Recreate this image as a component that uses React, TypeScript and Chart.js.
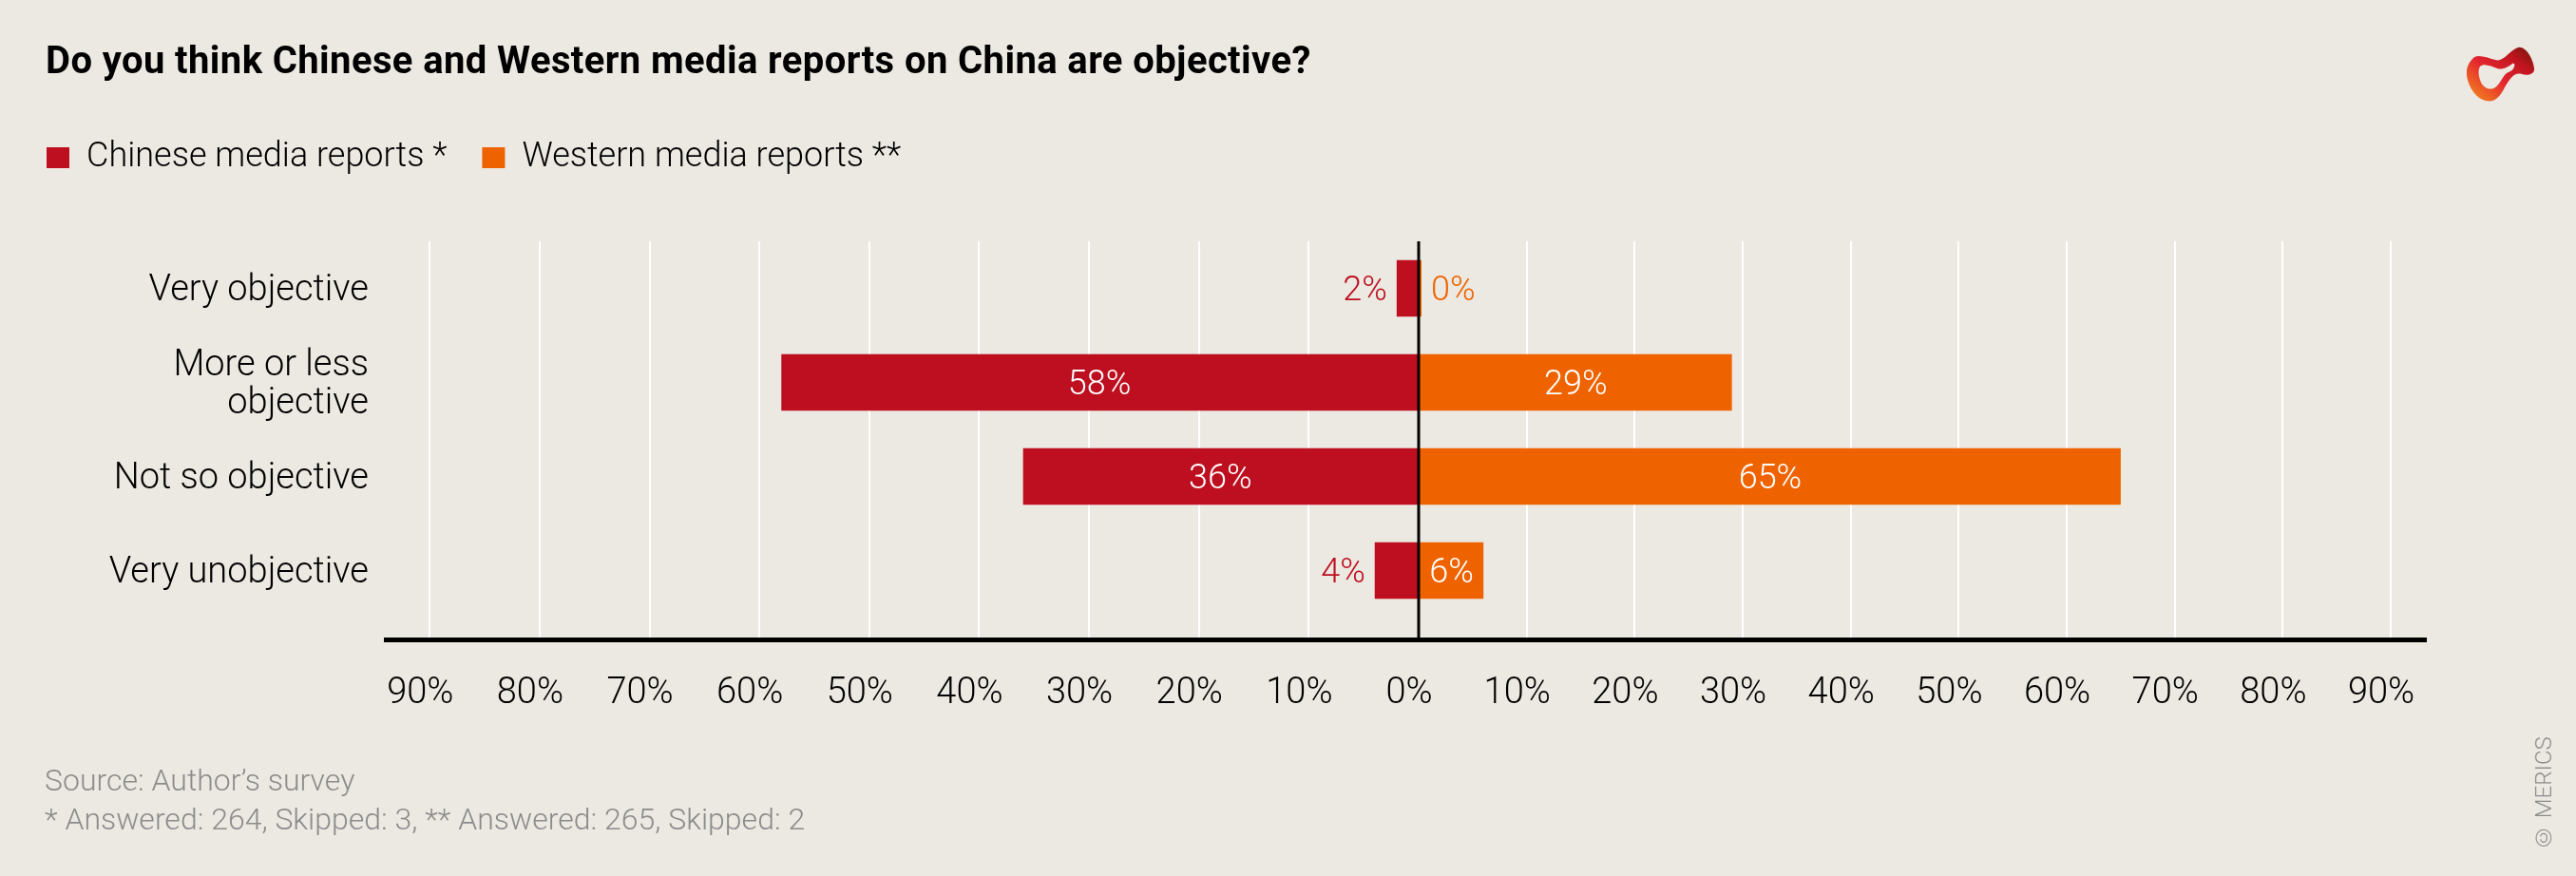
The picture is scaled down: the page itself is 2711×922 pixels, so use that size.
import React, { useEffect, useRef } from 'react';
import { Chart, registerables } from 'chart.js';

Chart.register(...registerables);

// survey answers, share of respondents in %
const categories = ['Very objective', 'More or less\nobjective', 'Not so objective', 'Very unobjective'];
const chineseShares = [2, 58, 36, 4];
const westernShares = [0, 29, 65, 6];
const seriesLabels = ['Chinese media reports *', 'Western media reports **'];
const sourceNote = 'Source: Author\u2019s survey';
const sampleNote = '* Answered: 264, Skipped: 3, ** Answered: 265, Skipped: 2';

const RED = '#bd0f1f';
const ORANGE = '#ee6300';
const BG = '#ece8e2';
const FONT = 'Roboto';

// black line at 0%, drawn over the bars
const zeroLine = {
  id: 'zeroLine',
  afterDatasetsDraw(chart: any) {
    const { ctx, chartArea } = chart;
    const x = chart.scales.x1.getPixelForValue(0);
    ctx.save();
    ctx.strokeStyle = '#000';
    ctx.lineWidth = 3;
    ctx.beginPath();
    ctx.moveTo(x, chartArea.top);
    ctx.lineTo(x, chartArea.bottom);
    ctx.stroke();
    ctx.restore();
  },
};

// percentage labels: inside the bar when it fits, else next to it
const barLabels = {
  id: 'barLabels',
  afterDatasetsDraw(chart: any) {
    const { ctx } = chart;
    ctx.save();
    ctx.font = `300 36px ${FONT}`;
    ctx.textBaseline = 'middle';
    chart.data.datasets.forEach((ds: any, di: number) => {
      const meta = chart.getDatasetMeta(di);
      meta.data.forEach((bar: any, i: number) => {
        const text = `${Math.abs(ds.data[i].x)}%`;
        const w = ctx.measureText(text).width;
        const { x, y, base } = bar.getProps(['x', 'y', 'base'], true);
        const ty = y + 3;
        if (Math.abs(x - base) > w + 16) {
          ctx.fillStyle = '#fff';
          ctx.textAlign = 'center';
          ctx.fillText(text, (x + base) / 2, ty);
        } else if (di === 0) {
          ctx.fillStyle = ds.backgroundColor;
          ctx.textAlign = 'right';
          ctx.fillText(text, Math.min(x, base) - 10, ty);
        } else {
          ctx.fillStyle = ds.backgroundColor;
          ctx.textAlign = 'left';
          ctx.fillText(text, Math.max(x, base) + 10, ty);
        }
      });
    });
    ctx.restore();
  },
};

const tickFont = { family: FONT, size: 38, weight: 300 as any };

const xAxis = (min: number, max: number, weight: number, hideZero: boolean) => ({
  type: 'linear' as const,
  position: 'bottom' as const,
  stack: 'x',
  stackWeight: weight,
  min,
  max,
  afterFit: (s: any) => {
    s.height = 249;
  },
  ticks: {
    stepSize: 10,
    includeBounds: false,
    autoSkip: false,
    maxRotation: 0,
    labelOffset: -10,
    padding: 35,
    color: '#000',
    font: tickFont,
    callback: (v: any) => (hideZero && v === 0 ? '' : `${Math.abs(v)}%`),
  },
  grid: { color: '#fff', lineWidth: 2, drawTicks: false },
  border: { color: '#000', width: 5 },
});

const MediaChart: React.FC = () => {
  const canvasRef = useRef<HTMLCanvasElement>(null);

  useEffect(() => {
    if (!canvasRef.current) return;
    const chart = new Chart(canvasRef.current, {
      type: 'bar',
      data: {
        datasets: [
          {
            label: seriesLabels[0],
            data: chineseShares.map((v, i) => ({ x: -v, y: i })),
            xAxisID: 'x1',
            yAxisID: 'y',
            backgroundColor: RED,
          },
          {
            label: seriesLabels[1],
            data: westernShares.map((v, i) => ({ x: v, y: i })),
            xAxisID: 'x2',
            yAxisID: 'y',
            backgroundColor: ORANGE,
            minBarLength: 3,
          },
        ] as any,
      },
      options: {
        indexAxis: 'y',
        responsive: false,
        animation: false,
        grouped: false,
        barPercentage: 0.6,
        categoryPercentage: 1,
        layout: { padding: { left: 12, right: 158, top: 111, bottom: 0 } },
        scales: {
          x1: xAxis(-94, 0, 1087, false),
          x2: xAxis(0, 93.25, 1060, true),
          y: {
            type: 'linear',
            position: 'left',
            offset: false,
            reverse: true,
            min: -0.5,
            max: 3.732,
            afterBuildTicks: (s: any) => {
              s.ticks = categories.map((_, i) => ({ value: i }));
            },
            afterFit: (s: any) => {
              s.width = 394;
            },
            ticks: {
              autoSkip: false,
              padding: 18,
              labelOffset: 3,
              color: '#000',
              font: { family: FONT, size: 38, weight: 300 as any, lineHeight: 1.05 },
              callback: (v: any) => categories[v].split('\n'),
            },
            grid: { display: false, drawTicks: false, offset: false },
            border: { display: false },
          },
        } as any,
        plugins: {
          title: { display: false },
          // empty subtitle keeps the gap between legend and plot
          subtitle: {
            display: true,
            text: '',
            weight: 500,
            font: { size: 1, lineHeight: 1 },
            padding: { top: 59, bottom: 0 },
          },
          legend: {
            position: 'top',
            align: 'start',
            labels: {
              boxWidth: 24,
              boxHeight: 22,
              padding: 37,
              color: '#000',
              font: { family: FONT, size: 36, weight: 300 as any },
            },
          },
          tooltip: { enabled: false },
        },
      } as any,
      plugins: [zeroLine, barLabels],
    });
    return () => chart.destroy();
  }, []);

  return <canvas ref={canvasRef} width={2711} height={922} style={{ display: 'block' }} />;
};

const Logo: React.FC = () => (
  <svg width={72} height={60} viewBox="0 0 72 60" style={{ position: 'absolute', left: 2596, top: 48 }}>
    <defs>
      <linearGradient id="merics" x1="0" y1="1" x2="1" y2="0">
        <stop offset="0" stopColor="#f7941d" />
        <stop offset="0.45" stopColor="#e3262f" />
        <stop offset="0.75" stopColor="#c0141f" />
        <stop offset="1" stopColor="#6b1a0c" />
      </linearGradient>
    </defs>
    <path
      fillRule="evenodd"
      fill="url(#merics)"
      d="M6 14 C10 8 20 12 30 15 C38 18 44 6 54 2 C62 0 70 14 71 24 C72 30 64 32 58 30 C50 28 46 34 40 44 C34 56 28 60 20 58 C10 56 2 44 0 32 C-1 24 2 18 6 14 Z M14 22 C18 18 26 22 32 24 C38 26 44 22 48 19 C52 17 51 26 44 28 C38 30 36 40 30 44 C24 48 16 44 14 36 C12 30 12 25 14 22 Z"
    />
  </svg>
);

const App: React.FC = () => (
  <div
    style={{
      position: 'absolute',
      left: 0,
      top: 0,
      width: 2711,
      height: 922,
      background: BG,
      overflow: 'hidden',
      fontFamily: FONT,
    }}
  >
    <MediaChart />
    <div
      style={{
        position: 'absolute',
        left: 48,
        top: 44,
        fontSize: 40,
        lineHeight: '40px',
        fontWeight: 700,
        letterSpacing: 0.4,
        color: '#000',
        whiteSpace: 'nowrap',
      }}
    >
      Do you think Chinese and Western media reports on China are objective?
    </div>
    <div
      style={{
        position: 'absolute',
        left: 47,
        top: 801,
        fontSize: 32,
        lineHeight: '41px',
        fontWeight: 300,
        color: '#8c8c8c',
        whiteSpace: 'nowrap',
      }}
    >
      <div>{sourceNote}</div>
      <div>{sampleNote}</div>
    </div>
    <div
      style={{
        position: 'absolute',
        left: 2664,
        top: 794,
        height: 101,
        fontSize: 24,
        lineHeight: '26px',
        fontWeight: 300,
        color: '#8c8c8c',
        writingMode: 'vertical-rl',
        transform: 'rotate(180deg)',
        whiteSpace: 'nowrap',
      }}
    >
      © MERICS
    </div>
    <Logo />
  </div>
);

export default App;
